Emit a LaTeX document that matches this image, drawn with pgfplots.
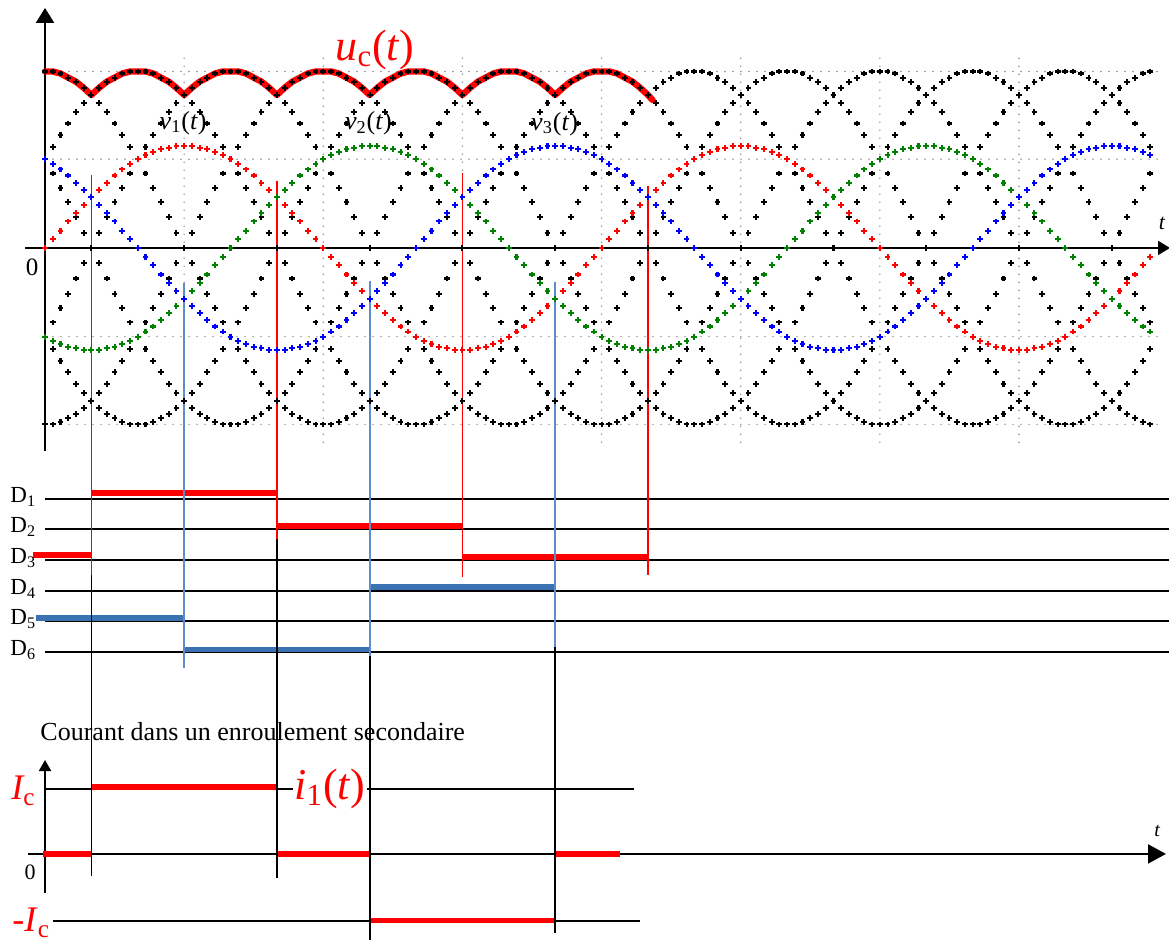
\documentclass[border=0pt]{standalone}
\usepackage{pgfplots}
\pgfplotsset{compat=1.18}
\usepackage{pgfplotstable}
\usetikzlibrary{arrows.meta}
\usepackage{fontspec}
\setmainfont{Liberation Serif}

\definecolor{vred}{RGB}{255,0,0}
\definecolor{vgreen}{RGB}{0,128,0}
\definecolor{vblue}{RGB}{0,0,255}
\definecolor{barblue}{RGB}{58,114,180}
\definecolor{lineblue}{RGB}{95,140,205}
\definecolor{gridgray}{RGB}{140,140,140}

% phase voltages v1, v2, v3 and line voltages (a..f), angle t in degrees
\pgfplotstableread{
t v1 v2 v3 a b c d e f
0 0 -0.87 0.87 0.87 1.73 0.87 -0.87 -1.73 -0.87
5 0.09 -0.91 0.82 0.99 1.73 0.73 -0.99 -1.73 -0.73
10 0.17 -0.94 0.77 1.11 1.71 0.59 -1.11 -1.71 -0.59
15 0.26 -0.97 0.71 1.22 1.67 0.45 -1.22 -1.67 -0.45
20 0.34 -0.98 0.64 1.33 1.63 0.3 -1.33 -1.63 -0.3
25 0.42 -1 0.57 1.42 1.57 0.15 -1.42 -1.57 -0.15
30 0.5 -1 0.5 1.5 1.5 0 -1.5 -1.5 0
35 0.57 -1 0.42 1.57 1.42 -0.15 -1.57 -1.42 0.15
40 0.64 -0.98 0.34 1.63 1.33 -0.3 -1.63 -1.33 0.3
45 0.71 -0.97 0.26 1.67 1.22 -0.45 -1.67 -1.22 0.45
50 0.77 -0.94 0.17 1.71 1.11 -0.59 -1.71 -1.11 0.59
55 0.82 -0.91 0.09 1.73 0.99 -0.73 -1.73 -0.99 0.73
60 0.87 -0.87 0 1.73 0.87 -0.87 -1.73 -0.87 0.87
65 0.91 -0.82 -0.09 1.73 0.73 -0.99 -1.73 -0.73 0.99
70 0.94 -0.77 -0.17 1.71 0.59 -1.11 -1.71 -0.59 1.11
75 0.97 -0.71 -0.26 1.67 0.45 -1.22 -1.67 -0.45 1.22
80 0.98 -0.64 -0.34 1.63 0.3 -1.33 -1.63 -0.3 1.33
85 1 -0.57 -0.42 1.57 0.15 -1.42 -1.57 -0.15 1.42
90 1 -0.5 -0.5 1.5 0 -1.5 -1.5 0 1.5
95 1 -0.42 -0.57 1.42 -0.15 -1.57 -1.42 0.15 1.57
100 0.98 -0.34 -0.64 1.33 -0.3 -1.63 -1.33 0.3 1.63
105 0.97 -0.26 -0.71 1.22 -0.45 -1.67 -1.22 0.45 1.67
110 0.94 -0.17 -0.77 1.11 -0.59 -1.71 -1.11 0.59 1.71
115 0.91 -0.09 -0.82 0.99 -0.73 -1.73 -0.99 0.73 1.73
120 0.87 0 -0.87 0.87 -0.87 -1.73 -0.87 0.87 1.73
125 0.82 0.09 -0.91 0.73 -0.99 -1.73 -0.73 0.99 1.73
130 0.77 0.17 -0.94 0.59 -1.11 -1.71 -0.59 1.11 1.71
135 0.71 0.26 -0.97 0.45 -1.22 -1.67 -0.45 1.22 1.67
140 0.64 0.34 -0.98 0.3 -1.33 -1.63 -0.3 1.33 1.63
145 0.57 0.42 -1 0.15 -1.42 -1.57 -0.15 1.42 1.57
150 0.5 0.5 -1 0 -1.5 -1.5 0 1.5 1.5
155 0.42 0.57 -1 -0.15 -1.57 -1.42 0.15 1.57 1.42
160 0.34 0.64 -0.98 -0.3 -1.63 -1.33 0.3 1.63 1.33
165 0.26 0.71 -0.97 -0.45 -1.67 -1.22 0.45 1.67 1.22
170 0.17 0.77 -0.94 -0.59 -1.71 -1.11 0.59 1.71 1.11
175 0.09 0.82 -0.91 -0.73 -1.73 -0.99 0.73 1.73 0.99
180 0 0.87 -0.87 -0.87 -1.73 -0.87 0.87 1.73 0.87
185 -0.09 0.91 -0.82 -0.99 -1.73 -0.73 0.99 1.73 0.73
190 -0.17 0.94 -0.77 -1.11 -1.71 -0.59 1.11 1.71 0.59
195 -0.26 0.97 -0.71 -1.22 -1.67 -0.45 1.22 1.67 0.45
200 -0.34 0.98 -0.64 -1.33 -1.63 -0.3 1.33 1.63 0.3
205 -0.42 1 -0.57 -1.42 -1.57 -0.15 1.42 1.57 0.15
210 -0.5 1 -0.5 -1.5 -1.5 0 1.5 1.5 0
215 -0.57 1 -0.42 -1.57 -1.42 0.15 1.57 1.42 -0.15
220 -0.64 0.98 -0.34 -1.63 -1.33 0.3 1.63 1.33 -0.3
225 -0.71 0.97 -0.26 -1.67 -1.22 0.45 1.67 1.22 -0.45
230 -0.77 0.94 -0.17 -1.71 -1.11 0.59 1.71 1.11 -0.59
235 -0.82 0.91 -0.09 -1.73 -0.99 0.73 1.73 0.99 -0.73
240 -0.87 0.87 0 -1.73 -0.87 0.87 1.73 0.87 -0.87
245 -0.91 0.82 0.09 -1.73 -0.73 0.99 1.73 0.73 -0.99
250 -0.94 0.77 0.17 -1.71 -0.59 1.11 1.71 0.59 -1.11
255 -0.97 0.71 0.26 -1.67 -0.45 1.22 1.67 0.45 -1.22
260 -0.98 0.64 0.34 -1.63 -0.3 1.33 1.63 0.3 -1.33
265 -1 0.57 0.42 -1.57 -0.15 1.42 1.57 0.15 -1.42
270 -1 0.5 0.5 -1.5 0 1.5 1.5 0 -1.5
275 -1 0.42 0.57 -1.42 0.15 1.57 1.42 -0.15 -1.57
280 -0.98 0.34 0.64 -1.33 0.3 1.63 1.33 -0.3 -1.63
285 -0.97 0.26 0.71 -1.22 0.45 1.67 1.22 -0.45 -1.67
290 -0.94 0.17 0.77 -1.11 0.59 1.71 1.11 -0.59 -1.71
295 -0.91 0.09 0.82 -0.99 0.73 1.73 0.99 -0.73 -1.73
300 -0.87 0 0.87 -0.87 0.87 1.73 0.87 -0.87 -1.73
305 -0.82 -0.09 0.91 -0.73 0.99 1.73 0.73 -0.99 -1.73
310 -0.77 -0.17 0.94 -0.59 1.11 1.71 0.59 -1.11 -1.71
315 -0.71 -0.26 0.97 -0.45 1.22 1.67 0.45 -1.22 -1.67
320 -0.64 -0.34 0.98 -0.3 1.33 1.63 0.3 -1.33 -1.63
325 -0.57 -0.42 1 -0.15 1.42 1.57 0.15 -1.42 -1.57
330 -0.5 -0.5 1 0 1.5 1.5 0 -1.5 -1.5
335 -0.42 -0.57 1 0.15 1.57 1.42 -0.15 -1.57 -1.42
340 -0.34 -0.64 0.98 0.3 1.63 1.33 -0.3 -1.63 -1.33
345 -0.26 -0.71 0.97 0.45 1.67 1.22 -0.45 -1.67 -1.22
350 -0.17 -0.77 0.94 0.59 1.71 1.11 -0.59 -1.71 -1.11
355 -0.09 -0.82 0.91 0.73 1.73 0.99 -0.73 -1.73 -0.99
360 0 -0.87 0.87 0.87 1.73 0.87 -0.87 -1.73 -0.87
365 0.09 -0.91 0.82 0.99 1.73 0.73 -0.99 -1.73 -0.73
370 0.17 -0.94 0.77 1.11 1.71 0.59 -1.11 -1.71 -0.59
375 0.26 -0.97 0.71 1.22 1.67 0.45 -1.22 -1.67 -0.45
380 0.34 -0.98 0.64 1.33 1.63 0.3 -1.33 -1.63 -0.3
385 0.42 -1 0.57 1.42 1.57 0.15 -1.42 -1.57 -0.15
390 0.5 -1 0.5 1.5 1.5 0 -1.5 -1.5 0
395 0.57 -1 0.42 1.57 1.42 -0.15 -1.57 -1.42 0.15
400 0.64 -0.98 0.34 1.63 1.33 -0.3 -1.63 -1.33 0.3
405 0.71 -0.97 0.26 1.67 1.22 -0.45 -1.67 -1.22 0.45
410 0.77 -0.94 0.17 1.71 1.11 -0.59 -1.71 -1.11 0.59
415 0.82 -0.91 0.09 1.73 0.99 -0.73 -1.73 -0.99 0.73
420 0.87 -0.87 0 1.73 0.87 -0.87 -1.73 -0.87 0.87
425 0.91 -0.82 -0.09 1.73 0.73 -0.99 -1.73 -0.73 0.99
430 0.94 -0.77 -0.17 1.71 0.59 -1.11 -1.71 -0.59 1.11
435 0.97 -0.71 -0.26 1.67 0.45 -1.22 -1.67 -0.45 1.22
440 0.98 -0.64 -0.34 1.63 0.3 -1.33 -1.63 -0.3 1.33
445 1 -0.57 -0.42 1.57 0.15 -1.42 -1.57 -0.15 1.42
450 1 -0.5 -0.5 1.5 0 -1.5 -1.5 0 1.5
455 1 -0.42 -0.57 1.42 -0.15 -1.57 -1.42 0.15 1.57
460 0.98 -0.34 -0.64 1.33 -0.3 -1.63 -1.33 0.3 1.63
465 0.97 -0.26 -0.71 1.22 -0.45 -1.67 -1.22 0.45 1.67
470 0.94 -0.17 -0.77 1.11 -0.59 -1.71 -1.11 0.59 1.71
475 0.91 -0.09 -0.82 0.99 -0.73 -1.73 -0.99 0.73 1.73
480 0.87 0 -0.87 0.87 -0.87 -1.73 -0.87 0.87 1.73
485 0.82 0.09 -0.91 0.73 -0.99 -1.73 -0.73 0.99 1.73
490 0.77 0.17 -0.94 0.59 -1.11 -1.71 -0.59 1.11 1.71
495 0.71 0.26 -0.97 0.45 -1.22 -1.67 -0.45 1.22 1.67
500 0.64 0.34 -0.98 0.3 -1.33 -1.63 -0.3 1.33 1.63
505 0.57 0.42 -1 0.15 -1.42 -1.57 -0.15 1.42 1.57
510 0.5 0.5 -1 0 -1.5 -1.5 0 1.5 1.5
515 0.42 0.57 -1 -0.15 -1.57 -1.42 0.15 1.57 1.42
520 0.34 0.64 -0.98 -0.3 -1.63 -1.33 0.3 1.63 1.33
525 0.26 0.71 -0.97 -0.45 -1.67 -1.22 0.45 1.67 1.22
530 0.17 0.77 -0.94 -0.59 -1.71 -1.11 0.59 1.71 1.11
535 0.09 0.82 -0.91 -0.73 -1.73 -0.99 0.73 1.73 0.99
540 0 0.87 -0.87 -0.87 -1.73 -0.87 0.87 1.73 0.87
545 -0.09 0.91 -0.82 -0.99 -1.73 -0.73 0.99 1.73 0.73
550 -0.17 0.94 -0.77 -1.11 -1.71 -0.59 1.11 1.71 0.59
555 -0.26 0.97 -0.71 -1.22 -1.67 -0.45 1.22 1.67 0.45
560 -0.34 0.98 -0.64 -1.33 -1.63 -0.3 1.33 1.63 0.3
565 -0.42 1 -0.57 -1.42 -1.57 -0.15 1.42 1.57 0.15
570 -0.5 1 -0.5 -1.5 -1.5 0 1.5 1.5 0
575 -0.57 1 -0.42 -1.57 -1.42 0.15 1.57 1.42 -0.15
580 -0.64 0.98 -0.34 -1.63 -1.33 0.3 1.63 1.33 -0.3
585 -0.71 0.97 -0.26 -1.67 -1.22 0.45 1.67 1.22 -0.45
590 -0.77 0.94 -0.17 -1.71 -1.11 0.59 1.71 1.11 -0.59
595 -0.82 0.91 -0.09 -1.73 -0.99 0.73 1.73 0.99 -0.73
600 -0.87 0.87 0 -1.73 -0.87 0.87 1.73 0.87 -0.87
605 -0.91 0.82 0.09 -1.73 -0.73 0.99 1.73 0.73 -0.99
610 -0.94 0.77 0.17 -1.71 -0.59 1.11 1.71 0.59 -1.11
615 -0.97 0.71 0.26 -1.67 -0.45 1.22 1.67 0.45 -1.22
620 -0.98 0.64 0.34 -1.63 -0.3 1.33 1.63 0.3 -1.33
625 -1 0.57 0.42 -1.57 -0.15 1.42 1.57 0.15 -1.42
630 -1 0.5 0.5 -1.5 0 1.5 1.5 0 -1.5
635 -1 0.42 0.57 -1.42 0.15 1.57 1.42 -0.15 -1.57
640 -0.98 0.34 0.64 -1.33 0.3 1.63 1.33 -0.3 -1.63
645 -0.97 0.26 0.71 -1.22 0.45 1.67 1.22 -0.45 -1.67
650 -0.94 0.17 0.77 -1.11 0.59 1.71 1.11 -0.59 -1.71
655 -0.91 0.09 0.82 -0.99 0.73 1.73 0.99 -0.73 -1.73
660 -0.87 0 0.87 -0.87 0.87 1.73 0.87 -0.87 -1.73
665 -0.82 -0.09 0.91 -0.73 0.99 1.73 0.73 -0.99 -1.73
670 -0.77 -0.17 0.94 -0.59 1.11 1.71 0.59 -1.11 -1.71
675 -0.71 -0.26 0.97 -0.45 1.22 1.67 0.45 -1.22 -1.67
680 -0.64 -0.34 0.98 -0.3 1.33 1.63 0.3 -1.33 -1.63
685 -0.57 -0.42 1 -0.15 1.42 1.57 0.15 -1.42 -1.57
690 -0.5 -0.5 1 0 1.5 1.5 0 -1.5 -1.5
695 -0.42 -0.57 1 0.15 1.57 1.42 -0.15 -1.57 -1.42
700 -0.34 -0.64 0.98 0.3 1.63 1.33 -0.3 -1.63 -1.33
705 -0.26 -0.71 0.97 0.45 1.67 1.22 -0.45 -1.67 -1.22
710 -0.17 -0.77 0.94 0.59 1.71 1.11 -0.59 -1.71 -1.11
715 -0.09 -0.82 0.91 0.73 1.73 0.99 -0.73 -1.73 -0.99
}\waves

% rectified output voltage (upper envelope of the line voltages)
\pgfplotstableread{
t uc
0 1.73
5 1.73
10 1.71
15 1.67
20 1.63
25 1.57
30 1.5
35 1.57
40 1.63
45 1.67
50 1.71
55 1.73
60 1.73
65 1.73
70 1.71
75 1.67
80 1.63
85 1.57
90 1.5
95 1.57
100 1.63
105 1.67
110 1.71
115 1.73
120 1.73
125 1.73
130 1.71
135 1.67
140 1.63
145 1.57
150 1.5
155 1.57
160 1.63
165 1.67
170 1.71
175 1.73
180 1.73
185 1.73
190 1.71
195 1.67
200 1.63
205 1.57
210 1.5
215 1.57
220 1.63
225 1.67
230 1.71
235 1.73
240 1.73
245 1.73
250 1.71
255 1.67
260 1.63
265 1.57
270 1.5
275 1.57
280 1.63
285 1.67
290 1.71
295 1.73
300 1.73
305 1.73
310 1.71
315 1.67
320 1.63
325 1.57
330 1.5
335 1.57
340 1.63
345 1.67
350 1.71
355 1.73
360 1.73
365 1.73
370 1.71
375 1.67
380 1.63
385 1.57
390 1.5
393 1.45
}\envelope

\pgfplotsset{
  wave/.style={only marks, mark=+, mark size=1.45pt, mark options={line width=1.05pt, solid}},
  seg/.style={mark=none, line cap=butt},
  dline/.style={seg, black, line width=0.8pt},
  vline/.style={seg, line width=0.85pt},
}

\begin{document}
\begin{tikzpicture}
\begin{axis}[
  scale only axis, width=584.5pt, height=471pt,
  xmin=-29.11, xmax=727.04, ymin=-6.804, ymax=2.431,
  hide axis, clip=false,
]
% dotted grid of the voltage plot
\foreach \yy in {-1.73,-0.87,0.87,1.73} {
  \edef\tmp{\noexpand\draw[gridgray, line width=0.8pt, line cap=round, dash pattern=on 0pt off 4pt]
    (axis cs:0,\yy) -- (axis cs:720,\yy);}\tmp
}
\foreach \xx in {90,180,270,360,450,540,630} {
  \edef\tmp{\noexpand\draw[gridgray, line width=0.8pt, line cap=round, dash pattern=on 0pt off 4pt]
    (axis cs:\xx,1.86) -- (axis cs:\xx,-1.96);}\tmp
}

% axes of the voltage plot
\draw[line width=1pt, -{Triangle[length=7.5pt,width=9pt]}] (axis cs:0,-1.99) -- (axis cs:0,2.353);
\draw[line width=1pt, -{Triangle[length=6pt,width=7pt]}] (axis cs:-12.9,0) -- (axis cs:727.7,0);

% line voltages
\addplot[wave, black] table[x=t, y=a] {\waves};
\addplot[wave, black] table[x=t, y=b] {\waves};
\addplot[wave, black] table[x=t, y=c] {\waves};
\addplot[wave, black] table[x=t, y=d] {\waves};
\addplot[wave, black] table[x=t, y=e] {\waves};
\addplot[wave, black] table[x=t, y=f] {\waves};
% phase voltages
\addplot[wave, vred] table[x=t, y=v1] {\waves};
\addplot[wave, vgreen] table[x=t, y=v2] {\waves};
\addplot[wave, vblue] table[x=t, y=v3] {\waves};

% conduction intervals: horizontal reference lines
\addplot[dline] coordinates {(0,-2.461) (727.04,-2.461)};
\addplot[dline] coordinates {(0,-2.755) (727.04,-2.755)};
\addplot[dline] coordinates {(0,-3.059) (727.04,-3.059)};
\addplot[dline] coordinates {(0,-3.363) (727.04,-3.363)};
\addplot[dline] coordinates {(0,-3.657) (727.04,-3.657)};
\addplot[dline] coordinates {(0,-3.961) (727.04,-3.961)};

% conduction bars
\addplot[seg, vred, line width=3pt] coordinates {(30,-2.405) (150,-2.405)};
\addplot[seg, vred, line width=3pt] coordinates {(150,-2.725) (270,-2.725)};
\addplot[seg, vred, line width=3pt] coordinates {(-7.8,-3.01) (30,-3.01)};
\addplot[seg, vred, line width=3pt] coordinates {(270,-3.025) (390,-3.025)};
\addplot[seg, barblue, line width=2.8pt] coordinates {(210,-3.324) (330,-3.324)};
\addplot[seg, barblue, line width=2.6pt] coordinates {(-5.8,-3.627) (90,-3.627)};
\addplot[seg, barblue, line width=2.2pt] coordinates {(90,-3.938) (210,-3.938)};

% secondary current: levels
\addplot[dline] coordinates {(0,-5.304) (381,-5.304)};
\addplot[dline] coordinates {(5.2,-6.598) (385,-6.598)};
\draw[line width=1pt, -{Triangle[length=9pt,width=9.5pt]}] (axis cs:-11,-5.941) -- (axis cs:725.1,-5.941);
\draw[line width=0.9pt, -{Triangle[length=5.5pt,width=6pt]}] (axis cs:0,-6.324) -- (axis cs:0,-5.02);
\addplot[seg, vred, line width=2.6pt] coordinates {(30,-5.285) (150,-5.285)};
\addplot[seg, vred, line width=2.6pt] coordinates {(-1,-5.941) (30,-5.941)};
\addplot[seg, vred, line width=2.6pt] coordinates {(150,-5.941) (210,-5.941)};
\addplot[seg, vred, line width=2.6pt] coordinates {(330,-5.941) (372,-5.941)};
\addplot[seg, vred, line width=2.6pt] coordinates {(210,-6.595) (330,-6.595)};

% commutation instants
\addplot[vline, vred] coordinates {(30,0.72) (30,-3.206)};
\addplot[vline, black] coordinates {(30,-3.206) (30,-6.157)};
\addplot[vline, lineblue, line width=1pt] coordinates {(90,-0.34) (90,-4.118)};
\addplot[vline, vred] coordinates {(150,0.657) (150,-2.853)};
\addplot[vline, black] coordinates {(150,-2.853) (150,-6.176)};
\addplot[vline, lineblue, line width=1pt] coordinates {(210,-0.32) (210,-4.0)};
\addplot[vline, black] coordinates {(210,-4.0) (210,-6.784)};
\addplot[vline, vred] coordinates {(270,0.735) (270,-3.225)};
\addplot[vline, lineblue, line width=1pt] coordinates {(330,-0.33) (330,-3.912)};
\addplot[vline, black] coordinates {(330,-3.912) (330,-6.716)};
\addplot[vline, vred] coordinates {(390,0.608) (390,-3.206)};

% rectified voltage
\addplot[seg, vred, line width=3.2pt, line join=round, line cap=round] table[x=t, y=uc] {\envelope};

% labels
\node[text=vred, font=\fontsize{22}{26}\selectfont] at (axis cs:213.5,1.941) {\textit{u}\textsubscript{c}(\textit{t})};
\node[font=\fontsize{13}{15}\selectfont] at (axis cs:89.3,1.225) {\textit{v}\textsubscript{1}(\textit{t})};
\node[font=\fontsize{13}{15}\selectfont] at (axis cs:209.2,1.225) {\textit{v}\textsubscript{2}(\textit{t})};
\node[font=\fontsize{13}{15}\selectfont] at (axis cs:329.6,1.216) {\textit{v}\textsubscript{3}(\textit{t})};
\node[font=\fontsize{12.5}{14}\selectfont] at (axis cs:-8.4,-0.186) {0};
\node[font=\fontsize{11}{13}\selectfont\itshape] at (axis cs:722.5,0.245) {t};

\foreach \k/\yy in {1/-2.5,2/-2.794,3/-3.098,4/-3.402,5/-3.696,6/-4.0} {
  \edef\tmp{\noexpand\node[anchor=base west, inner sep=0pt, font=\noexpand\fontsize{11.5}{13}\noexpand\selectfont]
    at (axis cs:-22.6,\yy) {D\noexpand\textsubscript{\k}};}\tmp
}

\node[anchor=base west, inner sep=0pt, font=\fontsize{13}{15}\selectfont] at (axis cs:-3.2,-4.833) {Courant dans un enroulement secondaire};
\node[anchor=base west, inner sep=0pt, text=vred, font=\fontsize{18}{21}\selectfont\itshape] at (axis cs:-22,-5.412) {I\textsubscript{\upshape c}};
\node[anchor=base west, inner sep=0pt, text=vred, font=\fontsize{18}{21}\selectfont] at (axis cs:-21.3,-6.706) {-\textit{I}\textsubscript{c}};
\node[text=vred, fill=white, inner sep=0.8pt, font=\fontsize{22}{26}\selectfont] at (axis cs:184.3,-5.304) {\textit{i}\textsubscript{1}(\textit{t})};
\node[font=\fontsize{11}{13}\selectfont] at (axis cs:-9.7,-6.118) {0};
\node[font=\fontsize{10}{12}\selectfont\itshape] at (axis cs:719.3,-5.716) {t};
\end{axis}
\pgfresetboundingbox
\path[use as bounding box] (current axis.south west) rectangle (current axis.north east);
\end{tikzpicture}
\end{document}
